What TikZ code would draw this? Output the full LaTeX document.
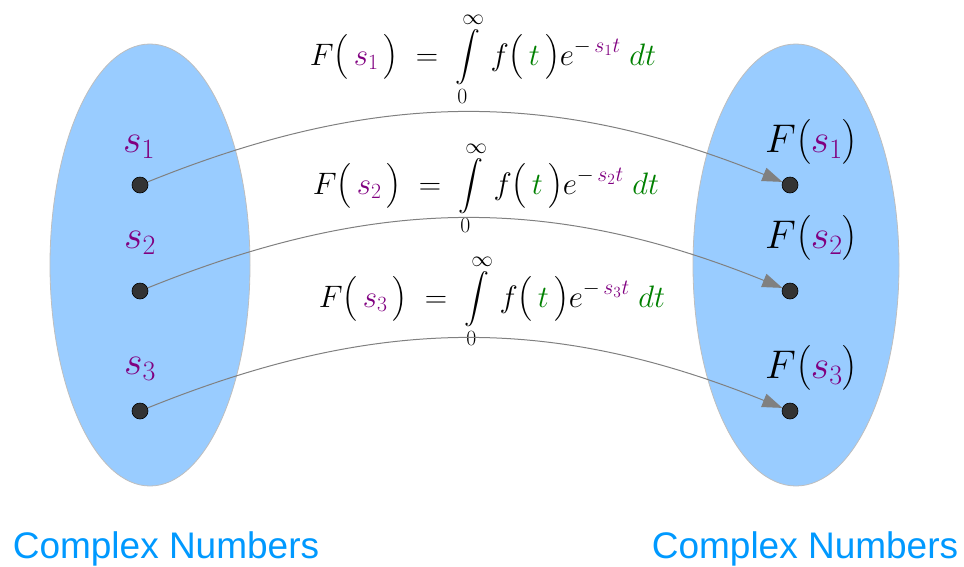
\RequirePackage{fix-cm}
\documentclass[tikz,border=0pt]{standalone}
\usepackage{amsmath}
\usepackage{fontspec}
\newfontfamily\setlabelfont{Liberation Sans}
\definecolor{SetBlue}{RGB}{153,204,255}
\definecolor{SetEdge}{RGB}{190,190,190}
\definecolor{LabelBlue}{RGB}{0,153,255}
\definecolor{ArgPurple}{RGB}{128,0,128}
\definecolor{TimeGreen}{RGB}{0,128,0}
\definecolor{DotGray}{RGB}{51,51,51}
\definecolor{ArrowGray}{RGB}{128,128,128}
\usetikzlibrary{
    arrows.meta,
    shapes.geometric
}
\newcommand{\argS}[1]{\textcolor{ArgPurple}{s_{#1}}}
\newcommand{\laplaceOf}[1]{%
    \displaystyle F\big(\,\argS{#1}\,\big) \;=\; \int\limits_0^\infty \,f\big(\,\textcolor{TimeGreen}{t}\,\big)e^{-\,\textcolor{ArgPurple}{s_{#1}t}}\;\textcolor{TimeGreen}{dt}%
}

\begin{document}
\begin{tikzpicture}[
    x=1pt,
    y=-1pt,
    set/.style={
        ellipse,
        draw=SetEdge,
        fill=SetBlue,
        line width=0.8pt,
        inner sep=0pt
    },
    point/.style={
        circle,
        draw=black,
        fill=DotGray,
        minimum size=16pt,
        inner sep=0pt,
        line width=0.6pt
    },
    formula/.style={
        anchor=base,
        inner sep=0pt,
        font=\fontsize{31}{37}\selectfont
    },
    label/.style={
        anchor=base west,
        inner sep=0pt,
        font=\fontsize{40}{48}\selectfont
    },
    setname/.style={
        anchor=base,
        inner sep=0pt,
        text=LabelBlue,
        font=\setlabelfont\fontsize{37}{44}\selectfont
    },
    arrow/.style={
        -{Triangle[length=20pt,width=14pt]},
        line width=1pt,
        color=ArrowGray
    }
]
\useasboundingbox (0,0) rectangle (964,566);
%
\node[set, minimum width=200pt, minimum height=442pt] (domain) at (150,265) {};
\node[set, minimum width=206pt, minimum height=442pt] (range) at (796,265) {};
%
\node[point] (s1) at (140,185) {};
\node[point] (s2) at (140,291) {};
\node[point] (s3) at (140,411) {};
%
\node[point] (F1) at (790,185) {};
\node[point] (F2) at (790,291) {};
\node[point] (F3) at (790,411) {};
%
\node[label] (ls1) at (123,152) {$\argS{1}$};
\node[label] (ls2) at (124,248) {$\argS{2}$};
\node[label] (ls3) at (124,374) {$\argS{3}$};
%
\node[label] (lF1) at (765,152) {$F\big(\argS{1}\big)$};
\node[label] (lF2) at (765,248) {$F\big(\argS{2}\big)$};
\node[label] (lF3) at (765,378) {$F\big(\argS{3}\big)$};
%
\node[formula] (eq1) at (483,65) {$\laplaceOf{1}$};
\node[formula] (eq2) at (486,194) {$\laplaceOf{2}$};
\node[formula] (eq3) at (492,307) {$\laplaceOf{3}$};
%
\draw[arrow] (s1) to[bend left=22] (F1);
\draw[arrow] (s2) to[bend left=22] (F2);
\draw[arrow] (s3) to[bend left=22] (F3);
%
\node[setname] (domainname) at (166,558) {Complex Numbers};
\node[setname] (rangename) at (805,558) {Complex Numbers};
%
\end{tikzpicture}
\end{document}
